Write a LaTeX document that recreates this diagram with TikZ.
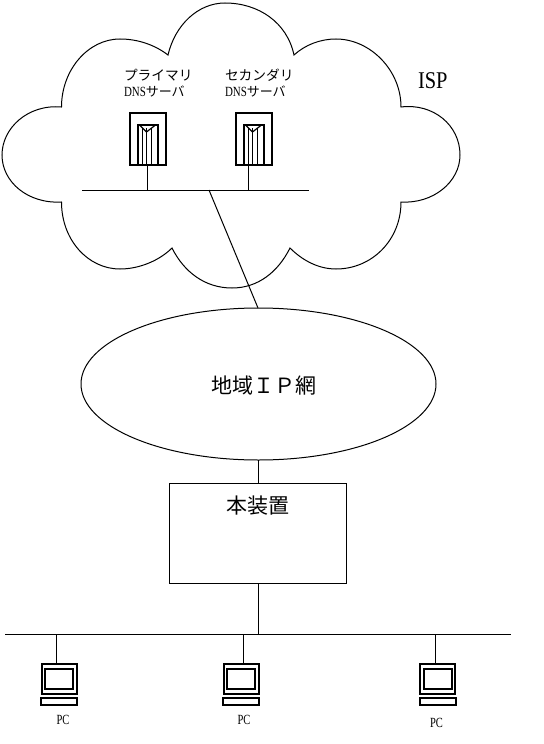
\documentclass[tikz,border=0pt]{standalone}
\usepackage{fontspec}
\setmainfont{Liberation Serif}
\newfontfamily\cjk{Noto Sans CJK JP}[Scale=1]
\newcommand{\pxfont}[1]{\fontsize{#1 bp}{#1 bp}\selectfont}
\newcommand{\narrowtext}[3]{\scalebox{#1}[1]{\pxfont{#2}#3}}
\tikzset{
  x=1bp,y=-1bp,
  thin line/.style={draw=black,line width=1bp},
  thick line/.style={draw=black,line width=2bp},
  mid line/.style={draw=black,line width=1.2bp},
  box/.style={draw=black,line width=2bp,inner sep=0pt,outer sep=0pt},
  plainbox/.style={draw=black,line width=1bp,inner sep=0pt,outer sep=0pt},
  label/.style={inner sep=0pt,outer sep=0pt,text=black},
}
\begin{document}
\begin{tikzpicture}
\useasboundingbox (0,0) rectangle (544,744);
% cloud
\draw[thin line]
 (61.5,107) .. controls (28,104) and (2,128) .. (2,155)
 .. controls (2,182) and (28,204) .. (61.5,202)
 .. controls (61.5,240) and (88,269) .. (120,269)
 .. controls (140,269) and (160,260) .. (172,248)
 .. controls (184,272) and (205,288) .. (232,288)
 .. controls (258,288) and (278,272) .. (290,248)
 .. controls (302,260) and (318,269) .. (336,269)
 .. controls (372,269) and (401,240) .. (401,202)
 .. controls (433,204) and (460,182) .. (460,155)
 .. controls (460,125) and (433,103) .. (401,107)
 .. controls (401,70) and (370,39) .. (336,39)
 .. controls (320,39) and (305,45) .. (294,55)
 .. controls (287,22) and (258,3) .. (225,3)
 .. controls (198,3) and (175,25) .. (168,55)
 .. controls (155,45) and (138,39) .. (120,39)
 .. controls (88,39) and (61.5,70) .. (61.5,107) -- cycle;
% labels in cloud
\node[label,anchor=west] (l1a) at (124,75) {\cjk\pxfont{13.7}プライマリ};
\node[label,anchor=west] (l1b) at (124,91) {\narrowtext{0.78}{14}{DNS}\cjk\pxfont{13}サーバ};
\node[label,anchor=west] (l2a) at (225,75) {\cjk\pxfont{13.7}セカンダリ};
\node[label,anchor=west] (l2b) at (225,91) {\narrowtext{0.78}{14}{DNS}\cjk\pxfont{13}サーバ};
\node[label,anchor=west] (isp) at (418,81) {\narrowtext{0.85}{24}{ISP}};
% servers
\foreach \n/\cx in {s1/147.5,s2/253.5}{
  \node[box,minimum width=36bp,minimum height=52bp] (\n) at (\cx,138.5) {};
  \draw[thick line] (\cx-10,165) -- (\cx-10,125) -- (\cx+10,125) -- (\cx+10,165);
  \draw[mid line] (\cx-8,125) -- (\cx-1,132) -- (\cx+8,125);
  \foreach \d in {-5,-1,4}{\draw[mid line] (\cx+\d,128) -- (\cx+\d,165);}
}
% ISP bus
\coordinate (busL) at (82,190);
\coordinate (busR) at (309,190);
\coordinate (busA) at (147,190);
\coordinate (busB) at (248,190);
\coordinate (busC) at (209,190);
\draw[thin line] (busL) -- (busR);
\draw[thin line] (147,165) -- (busA);
\draw[thin line] (248,165) -- (busB);
% network ellipse
\draw[thin line] (258.5,384) ellipse [x radius=177.5, y radius=76];
\coordinate (elTop) at (258,308);
\coordinate (elBot) at (258.5,460);
\node[label] (net) at (264,386) {\cjk\pxfont{21}地域ＩＰ網};
\draw[thin line] (busC) -- (elTop);
% device
\node[plainbox,minimum width=177bp,minimum height=100bp] (dev) at (257.5,533) {};
\node[label] (devt) at (257.5,506) {\cjk\pxfont{21}本装置};
\coordinate (devT) at (258.5,483);
\coordinate (devB) at (258.5,583);
\draw[thin line] (elBot) -- (devT);
% LAN
\coordinate (lanL) at (5,634);
\coordinate (lanR) at (511,634);
\coordinate (lanM) at (258.5,634);
\draw[thin line] (lanL) -- (lanR);
\draw[thin line] (devB) -- (lanM);
% PCs
\foreach \n/\lx/\ix/\tx/\ty in {p1/56.5/59/63/720,p2/243.5/241/244/720,p3/435.5/437.5/436.5/723}{
  \node[box,minimum width=35bp,minimum height=30bp] (\n) at (\ix,679) {};
  \draw[thick line] (\ix-14,668.5) rectangle (\ix+14,689);
  \draw[thick line] (\ix-18,697.5) rectangle (\ix+18,705);
  \coordinate (\n top) at (\lx,634);
  \draw[thin line] (\n top) -- (\lx,664);
  \node[label] (\n t) at (\tx,\ty) {\narrowtext{0.75}{14}{PC}};
}
\end{tikzpicture}
\end{document}
